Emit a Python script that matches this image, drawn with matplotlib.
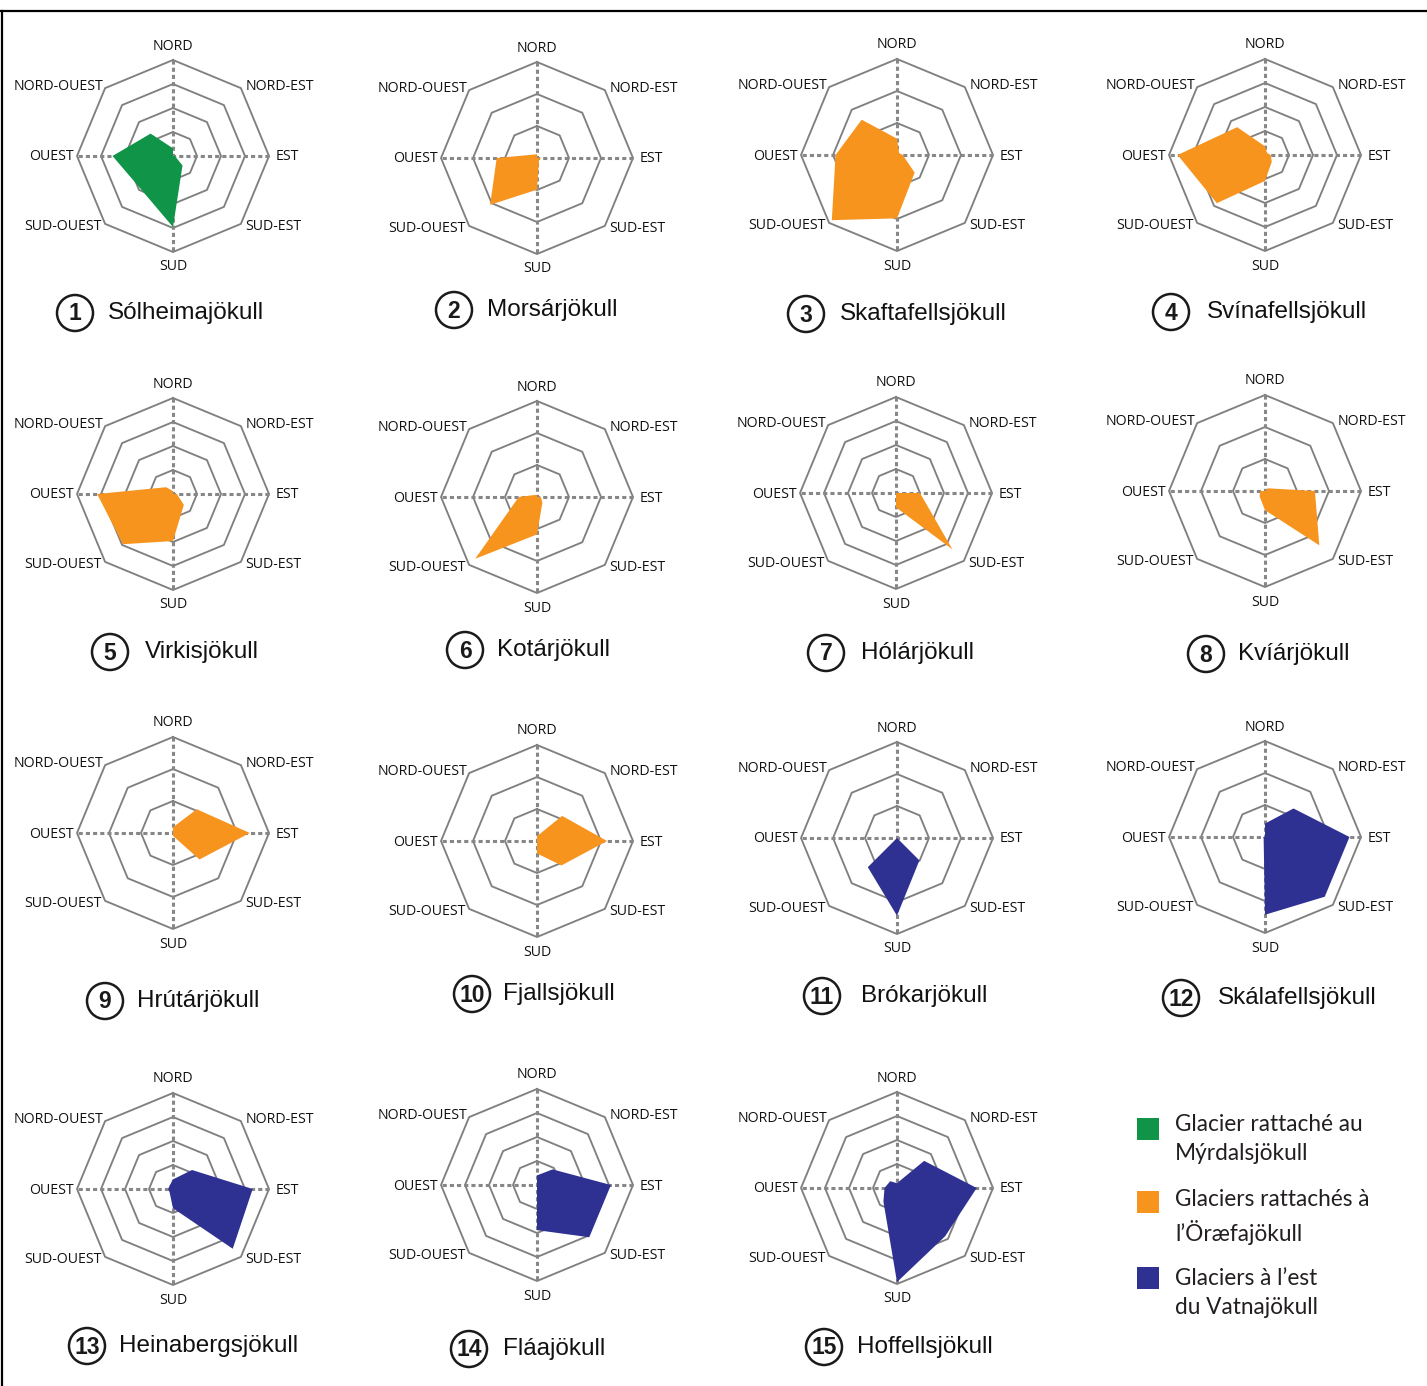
import numpy as np
import matplotlib
matplotlib.use("Agg")
import matplotlib.pyplot as plt
from matplotlib.patches import Circle, Rectangle

# ---------------- data ----------------
directions = ["NORD", "NORD-EST", "EST", "SUD-EST", "SUD", "SUD-OUEST", "OUEST", "NORD-OUEST"]

glaciers = ["Sólheimajökull", "Morsárjökull", "Skaftafellsjökull", "Svínafellsjökull",
            "Virkisjökull", "Kotárjökull", "Hólárjökull", "Kvíárjökull",
            "Hrútárjökull", "Fjallsjökull", "Brókarjökull", "Skálafellsjökull",
            "Heinabergsjökull", "Fláajökull", "Hoffellsjökull"]

# group of each glacier: 0 = Mýrdalsjökull, 1 = Öræfajökull, 2 = east of Vatnajökull
group = [0, 1, 1, 1, 1, 1, 1, 1, 1, 1, 2, 2, 2, 2, 2]

# number of grid rings of each radar
rings = [4, 3, 3, 4, 4, 3, 4, 3, 3, 3, 3, 3, 4, 4, 4]

# relative values (outer ring = 1), order N, NE, E, SE, S, SW, W, NW
v01 = [0.08, 0.00, 0.02, 0.14, 0.74, 0.48, 0.63, 0.33]
v02 = [0.04, 0.00, 0.04, 0.03, 0.33, 0.69, 0.42, 0.05]
v03 = [0.17, 0.03, 0.06, 0.26, 0.66, 0.96, 0.64, 0.52]
v04 = [0.09, 0.03, 0.06, 0.10, 0.27, 0.71, 0.91, 0.41]
v05 = [0.03, 0.00, 0.04, 0.16, 0.49, 0.74, 0.79, 0.10]
v06 = [0.02, 0.00, 0.04, 0.08, 0.39, 0.91, 0.19, 0.03]
v07 = [0.00, 0.00, 0.25, 0.83, 0.15, 0.00, 0.00, 0.00]
v08 = [0.00, 0.04, 0.52, 0.80, 0.20, 0.08, 0.05, 0.00]
v09 = [0.06, 0.35, 0.80, 0.39, 0.03, 0.00, 0.00, 0.00]
v10 = [0.05, 0.37, 0.73, 0.36, 0.13, 0.00, 0.00, 0.00]
v11 = [0.00, 0.00, 0.00, 0.33, 0.81, 0.43, 0.00, 0.00]
v12 = [0.14, 0.42, 0.88, 0.88, 0.81, 0.02, 0.02, 0.00]
v13 = [0.10, 0.28, 0.83, 0.88, 0.20, 0.05, 0.05, 0.05]
v14 = [0.10, 0.23, 0.77, 0.77, 0.47, 0.00, 0.00, 0.00]
v15 = [0.05, 0.40, 0.83, 0.71, 0.98, 0.20, 0.13, 0.10]
values = [v01, v02, v03, v04, v05, v06, v07, v08, v09, v10, v11, v12, v13, v14, v15]

legend_labels = ["Glacier rattaché au\nMýrdalsjökull",
                 "Glaciers rattachés à\nl’Öræfajökull",
                 "Glaciers à l’est\ndu Vatnajökull"]

# ---------------- layout / style ----------------
W, H = 1427, 1386
DPI = 100
R = 96
colors = ["#0F9448", "#F7941E", "#2E3192"]
ring_col = "#808080"
spoke_col = "#878787"

centers = [(173, 156), (537, 158), (897, 155), (1265, 155),
           (173, 494), (537, 497), (896, 493), (1265, 491),
           (173, 833), (537, 841), (897, 838), (1265, 837),
           (173, 1189), (537, 1185), (897, 1188)]

# circle x, circle y, text x
titles = [(75, 313, 108), (454, 310, 487), (806, 314, 840), (1171, 312, 1207),
          (110, 652, 145), (465, 650, 497), (826, 653, 861), (1206, 654, 1238),
          (105, 1001, 137), (472, 994, 503), (822, 996, 861), (1181, 998, 1218),
          (87, 1346, 119), (469, 1349, 503), (824, 1347, 857)]

# label offsets in pixels from the outer vertex (dx, dy up), ha
lab_style = [(0, 14, "center"), (5, 2, "left"), (7, -1, "left"), (4, -3, "left"),
             (0, -15, "center"), (-3, -3, "right"), (-3, -1, "right"), (-2, 2, "right")]

fig = plt.figure(figsize=(W / DPI, H / DPI), dpi=DPI)
fig.patch.set_facecolor("white")

# overlay axes in pixel coordinates for titles, legend and frame
ov = fig.add_axes([0, 0, 1, 1])
ov.set_xlim(0, W)
ov.set_ylim(H, 0)
ov.axis("off")

theta = np.deg2rad(np.arange(0, 360, 45))
theta_c = np.append(theta, theta[0])

for i, name in enumerate(glaciers):
    cx, cy = centers[i]
    ax = fig.add_axes([(cx - R) / W, 1 - (cy + R) / H, 2 * R / W, 2 * R / H],
                      projection="polar")
    ax.set_theta_zero_location("N")
    ax.set_theta_direction(-1)
    ax.set_ylim(0, 1)
    ax.axis("off")
    n = rings[i]
    for k in range(1, n + 1):
        r = k / n
        ax.plot(theta_c, [r] * 9, color=ring_col, lw=1.35, zorder=1, clip_on=False)
    for a in (0, np.pi / 2):
        ax.plot([a, a + np.pi], [1, 1], color=spoke_col, lw=2.2,
                ls=(0, (1.35, 1.0)), zorder=1.5, clip_on=False)
    vals = values[i]
    ax.fill(theta_c, vals + [vals[0]], color=colors[group[i]], lw=0, zorder=3,
            clip_on=False)
    for j, d in enumerate(directions):
        dx, dy, ha = lab_style[j]
        ax.annotate(d, xy=(theta[j], 1.0), xytext=(dx, dy), textcoords="offset pixels",
                    ha=ha, va="center", fontsize=10.2, family="Open Sans",
                    color="#111111", annotation_clip=False)
    # title
    tx, ty, tt = titles[i]
    ov.add_patch(Circle((tx, ty), 18, fill=False, lw=1.8, ec="#1a1a1a"))
    ov.text(tx, ty + 1, str(i + 1), ha="center", va="center", fontsize=16.5,
            fontweight="bold", family="Liberation Sans", color="#1a1a1a")
    ov.text(tt, ty, name, ha="left", va="center", fontsize=17.5,
            family="Liberation Sans", color="#111111")

# legend
leg_y = [1129, 1202, 1278]
leg_ty = [1139, 1217, 1293]
for k, lab in enumerate(legend_labels):
    ov.add_patch(Rectangle((1137, leg_y[k] - 11), 22, 22, color=colors[k], lw=0))
    ov.text(1175, leg_ty[k], lab, ha="left", va="center", fontsize=16.3,
            family="Lato", color="#231F20", linespacing=1.5)

# frame (top and left)
ov.plot([0, W], [11, 11], color="black", lw=1.6, clip_on=False)
ov.plot([1.5, 1.5], [11, H], color="black", lw=1.6, clip_on=False)

fig.savefig("out.png", dpi=DPI, facecolor="white")
